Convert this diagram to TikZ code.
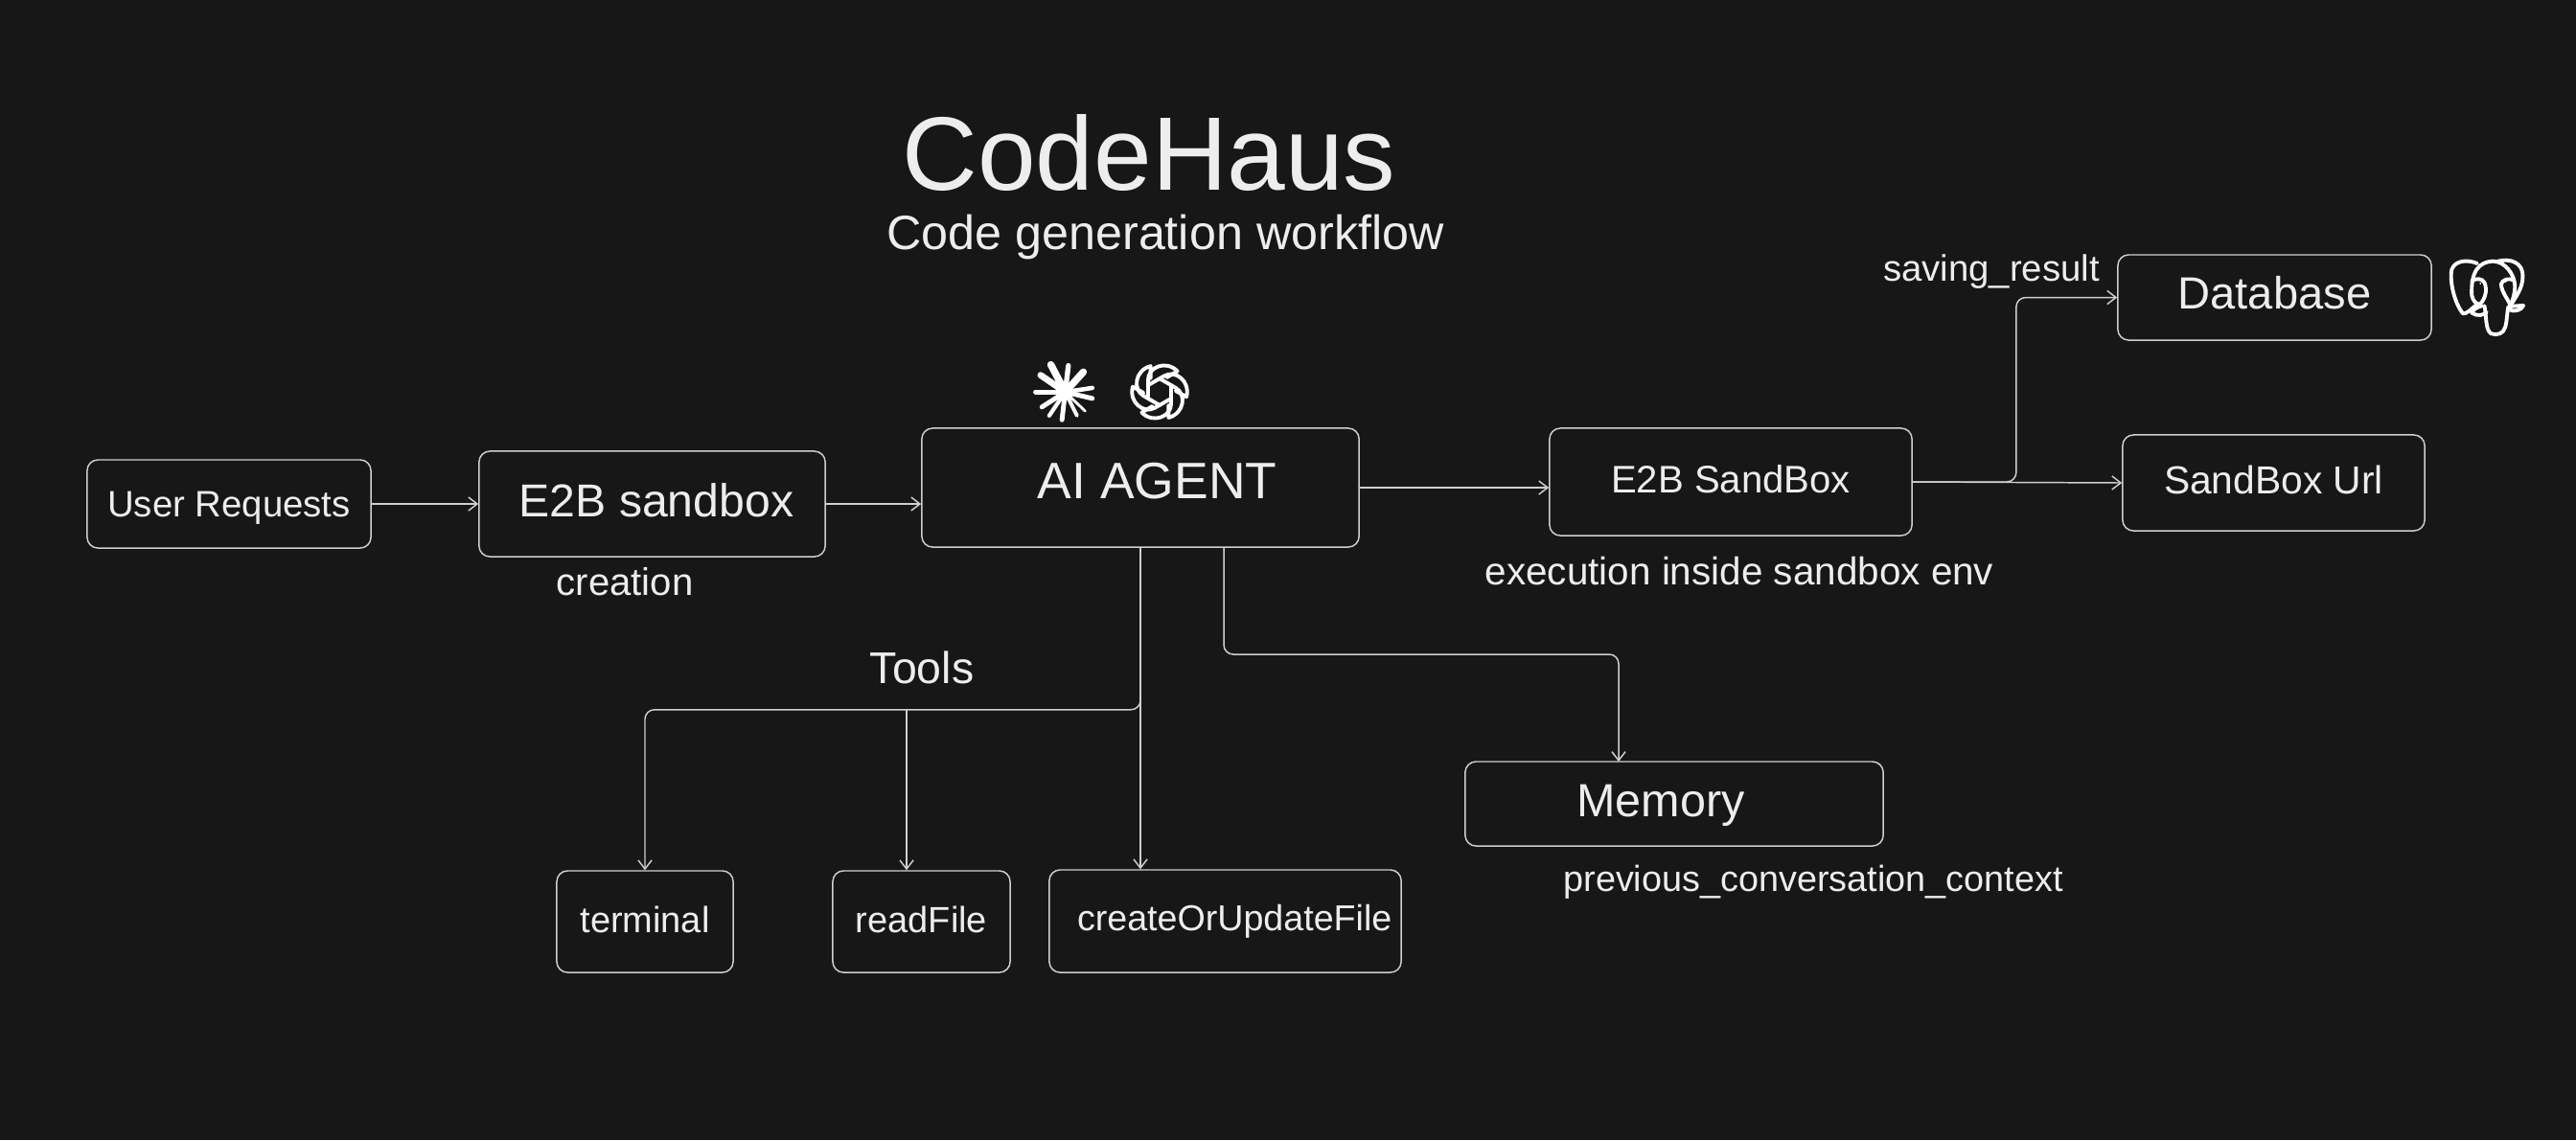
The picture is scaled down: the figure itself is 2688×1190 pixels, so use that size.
\documentclass[tikz,border=0pt]{standalone}
\usepackage{fontspec}
\setmainfont{Liberation Sans}
\usetikzlibrary{arrows.meta}
\definecolor{bgc}{HTML}{171717}
\definecolor{linec}{HTML}{CFCFCF}
\definecolor{textc}{HTML}{EDEDED}
\newcommand{\fsz}[1]{\fontsize{#1}{#1}\selectfont}
\newcommand{\tl}[2]{\smash{\raisebox{#1}{#2}}}
\tikzset{
  boxn/.style={draw=linec,line width=0.42pt,rounded corners=3.2pt,inner sep=0pt,text=textc},
  lab/.style={text=textc,inner sep=0pt},
  conn/.style={draw=linec,line width=0.42pt,-{Straight Barb[length=2.6pt,width=4pt]}},
  elbow/.style={conn,rounded corners=2.8pt},
  iconl/.style={draw=white,line width=1.1pt,line cap=round,line join=round},
}
\begin{document}
\begin{tikzpicture}[x=0.01cm,y=-0.01cm]
\path[fill=bgc,use as bounding box] (0,0) rectangle (2688,1190);
% titles
\node[lab] (title) at (1199,160) {\fsz{31}CodeHaus};
\node[lab] (subtitle) at (1216,247) {\fsz{14.3}Code generation workflow};
% boxes
\node[boxn,minimum width=2.96cm,minimum height=0.92cm] (user) at (239,526) {\tl{-3.9pt}{\fsz{10.9}User Requests}};
\node[boxn,minimum width=3.61cm,minimum height=1.10cm] (e2b) at (680.5,526) {\tl{-3.9pt}{\hspace{2.5pt}\fsz{13.7}E2B sandbox}};
\node[boxn,minimum width=4.56cm,minimum height=1.24cm] (agent) at (1190,509) {\tl{-3.4pt}{\hspace{10pt}\fsz{15.2}AI AGENT}};
\node[boxn,minimum width=3.78cm,minimum height=1.12cm] (sandbox) at (1806,503) {\tl{-3.4pt}{\fsz{11.4}E2B SandBox}};
\node[boxn,minimum width=3.27cm,minimum height=0.89cm] (db) at (2373.5,310.5) {\tl{-3.3pt}{\fsz{13.4}Database}};
\node[boxn,minimum width=3.15cm,minimum height=1.00cm] (url) at (2372.5,504) {\tl{-3.15pt}{\fsz{11.6}SandBox Url}};
\node[boxn,minimum width=4.36cm,minimum height=0.88cm] (memory) at (1747,839) {\tl{-3.7pt}{\hspace*{-8pt}\fsz{13.8}Memory}};
\node[boxn,minimum width=1.84cm,minimum height=1.06cm] (terminal) at (673,962) {\tl{-3.4pt}{\fsz{10.8}terminal}};
\node[boxn,minimum width=1.85cm,minimum height=1.06cm] (readfile) at (961.5,962) {\tl{-3.4pt}{\fsz{10.8}readFile}};
\node[boxn,minimum width=3.67cm,minimum height=1.07cm] (create) at (1278.5,961.5) {\tl{-2.8pt}{\hspace{5.5pt}\fsz{10.7}createOrUpdateFile}};
% free labels
\node[lab] (creation) at (652,607) {\fsz{11.4}creation};
\node[lab] (tools) at (962,697) {\fsz{13.2}Tools};
\node[lab] (exec) at (1815,596) {\fsz{11.5}execution inside sandbox env};
\node[lab] (saving) at (2078,284) {\fsz{10.9}saving\_result};
\node[lab] (prev) at (1892,921) {\fsz{10.75}previous\_conversation\_context};
% connectors
\coordinate (a1) at (1418,509);
\coordinate (t1) at (946,740);
\coordinate (m1) at (1277,571);
\coordinate (m2) at (1689,683);
\coordinate (m3) at (1689,795);
\draw[conn] (user.east) -- (e2b.west);
\draw[conn] (e2b.east) -- (e2b.east -| agent.west);
\draw[conn] (a1) -- (a1 -| sandbox.west);
\draw[conn] (sandbox.east) -- (url.west);
\draw[elbow] (sandbox.east) -- ++(108,0) |- (db.west);
\draw[conn] (agent.south) -- (agent.south |- create.north);
\draw[elbow] (agent.south) -- ++(0,169) -| (terminal.north);
\draw[conn] (t1) -- (t1 |- readfile.north);
\draw[elbow] (m1) |- (m2) -- (m3);
% star icon
\begin{scope}[shift={(1000,340)},x=0.003333cm,y=-0.003333cm]
  \fill[white] (335,208) circle (26);
  \foreach \tx/\ty/\w in {290/122/2.1,345/125/1.5,392/145/2.1,420/195/1.3,420/228/1.4,398/268/0.8,372/282/1.1,325/295/1.4,285/282/1.2,262/255/1.4,242/208/1.4,258/155/1.9}
    \draw[white,line width=\w pt,line cap=round] (335,208) -- (\tx,\ty);
\end{scope}
% knot icon
\begin{scope}[shift={(1210,409)},x=0.3cm,y=0.3cm]
  \foreach \a in {0,60,...,300}
    \draw[iconl,rotate=\a] (-0.40,-0.24) -- (-0.40,0.42) .. controls (-0.40,0.86) and (0.22,1.12) .. (0.62,0.72) -- (0.25,0.5);
\end{scope}
% elephant
\begin{scope}[shift={(2480,240)},x=0.003333cm,y=-0.003333cm]
  \draw[iconl] (315,105) .. controls (285,92) and (245,95) .. (235,125) .. controls (228,165) and (245,230) .. (270,262) .. controls (280,265) and (295,250) .. (310,237);
  \draw[iconl] (298,205) .. controls (295,130) and (320,100) .. (365,98) .. controls (405,100) and (430,140) .. (433,170) .. controls (435,195) and (428,215) .. (420,237);
  \draw[iconl] (375,100) .. controls (420,85) and (460,105) .. (458,145) .. controls (458,185) and (435,210) .. (420,237);
  \draw[iconl] (298,205) .. controls (302,225) and (315,235) .. (325,232) .. controls (340,215) and (348,190) .. (338,165) .. controls (330,150) and (310,152) .. (298,160);
  \draw[iconl] (430,158) .. controls (415,150) and (395,155) .. (390,170) .. controls (392,195) and (410,215) .. (420,237);
  \draw[iconl] (330,238) .. controls (315,242) and (302,250) .. (298,260) .. controls (315,272) and (335,268) .. (345,258);
  \draw[iconl] (338,238) .. controls (345,275) and (340,310) .. (358,325) .. controls (378,332) and (398,325) .. (403,305) .. controls (410,280) and (408,260) .. (413,240);
  \draw[iconl] (415,240) -- (460,237) .. controls (455,252) and (430,258) .. (415,250);
  \fill[white] (325,168) circle (3) (404,163) circle (3);
\end{scope}
\end{tikzpicture}
\end{document}
